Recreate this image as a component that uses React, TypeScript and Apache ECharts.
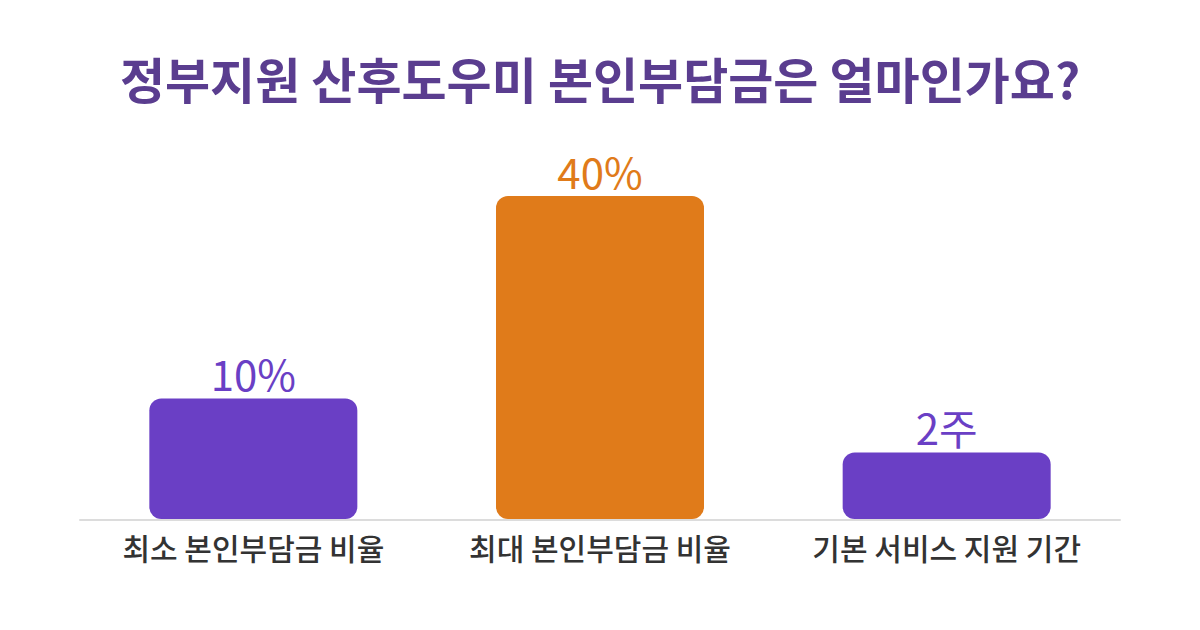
import { useRef, useEffect } from "react";
import * as echarts from "echarts";

const TITLE = "정부지원 산후도우미 본인부담금은 얼마인가요?";
const CATEGORIES = ["최소 본인부담금 비율", "최대 본인부담금 비율", "기본 서비스 지원 기간"];
const VALUES = [10, 40, 2];
const VALUE_LABELS = ["10%", "40%", "2주"];
const BAR_COLORS = ["#6a3fc5", "#e07b1a", "#6a3fc5"];
// bars are drawn up from the axis floor, not from zero
const AXIS_MIN = -8;
const AXIS_MAX = 40;

const FONT = '"Noto Sans CJK KR", "Noto Sans", sans-serif';

export default function App() {
  const chartRef = useRef<HTMLDivElement>(null);

  useEffect(() => {
    if (!chartRef.current) return;
    const chart = echarts.init(chartRef.current, null, { renderer: "svg" });

    chart.setOption({
      animation: false,
      backgroundColor: "#ffffff",
      textStyle: { fontFamily: FONT },
      title: {
        text: TITLE,
        left: "center",
        top: 48,
        textStyle: {
          fontFamily: FONT,
          fontSize: 49,
          fontWeight: "bold",
          color: "#5a3d8f",
        },
      },
      grid: { left: 80, right: 80, top: 196, bottom: 110 },
      xAxis: {
        type: "category",
        data: CATEGORIES,
        axisLine: { show: true, onZero: false, lineStyle: { color: "#dcdcdc", width: 2 } },
        axisTick: { show: false },
        axisLabel: {
          interval: 0,
          hideOverlap: false,
          margin: 12,
          fontFamily: FONT,
          fontSize: 30,
          fontWeight: 500,
          color: "#333333",
        },
      },
      yAxis: {
        type: "value",
        min: AXIS_MIN,
        max: AXIS_MAX,
        show: false,
        splitLine: { show: false },
      },
      series: [
        {
          type: "custom",
          data: VALUES.map((v, i) => [i, v]),
          encode: { x: 0, y: 1 },
          z: 1,
          renderItem: (params: any, api: any) => {
            const idx = api.value(0);
            const top = api.coord([idx, api.value(1)]);
            const base = api.coord([idx, AXIS_MIN]);
            const band = api.size([1, 0])[0];
            const width = band * 0.6;
            const i = params.dataIndex;
            return {
              type: "rect",
              shape: {
                x: top[0] - width / 2,
                y: top[1],
                width,
                height: base[1] - top[1] - 1,
                r: 12,
              },
              style: { fill: BAR_COLORS[i] },
              textContent: {
                style: {
                  text: VALUE_LABELS[i],
                  fill: BAR_COLORS[i],
                  fontFamily: FONT,
                  fontSize: 42,
                  fontWeight: "normal",
                },
              },
              textConfig: { position: "top", distance: 5 },
            };
          },
        },
      ],
    });

    return () => {
      chart.dispose();
    };
  }, []);

  return (
    <div
      ref={chartRef}
      style={{ position: "fixed", left: 0, top: 0, width: 1200, height: 630 }}
    />
  );
}
